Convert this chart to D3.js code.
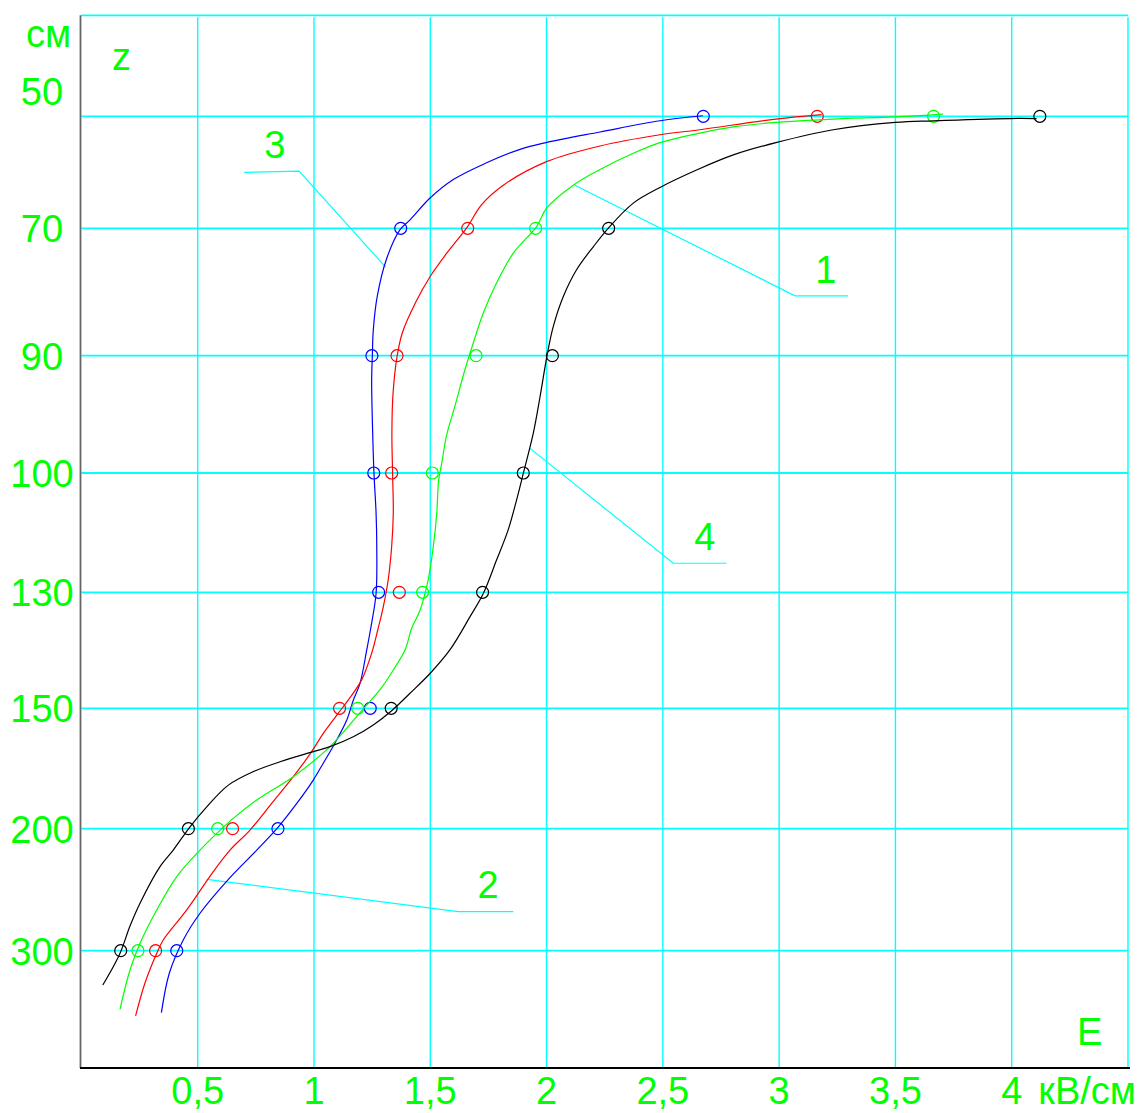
<!DOCTYPE html>
<html><head><meta charset="utf-8">
<script src="https://cdn.jsdelivr.net/npm/d3@7"></script>
<style>body{margin:0;background:#fff}text{font-family:"Liberation Sans",Arial,sans-serif}</style>
</head><body><svg id="c" width="1140" height="1113"></svg>
<script>
// ---------- data ----------
const depthTicks = [50, 70, 90, 100, 130, 150, 200, 300];          // z, cm
const eTicks = [0.5, 1, 1.5, 2, 2.5, 3, 3.5, 4];                     // E, kV/cm
const eTickLabels = ["0,5", "1", "1,5", "2", "2,5", "3", "3,5", "4"];
const depthLabels = ["50", "70", "90", "100", "130", "150", "200", "300"];

// measured points (E at each depth of depthTicks)
const markers1 = [3.664, 1.953, 1.697, 1.509, 1.467, 1.188, 0.586, 0.243]; // green
const markers2 = [3.164, 1.661, 1.357, 1.334, 1.367, 1.110, 0.650, 0.319]; // red
const markers3 = [2.674, 1.373, 1.249, 1.257, 1.278, 1.242, 0.845, 0.410]; // blue
const markers4 = [4.121, 2.267, 2.025, 1.900, 1.725, 1.332, 0.460, 0.169]; // black

// smoothed curves, [E, z]
const curve1 = [[3.704,49.6],[3.499,50.1],[3.233,50.5],[2.986,51.1],[2.803,51.9],[2.659,53.0],[2.488,54.7],[2.373,56.6],[2.230,59.5],[2.115,62.3],[2.000,66.4],[1.957,69.7],[1.857,73.9],[1.785,78.6],[1.728,83.3],[1.685,88.0],[1.649,91.2],[1.606,94.3],[1.570,96.8],[1.549,99.2],[1.536,101.8],[1.528,110.1],[1.513,118.5],[1.491,126.9],[1.456,133.1],[1.420,136.2],[1.392,139.9],[1.341,143.4],[1.284,146.8],[1.211,150.3],[1.069,165.9],[0.911,178.4],[0.754,188.1],[0.653,195.7],[0.582,203.8],[0.510,217.5],[0.410,239.3],[0.324,266.6],[0.252,293.9],[0.209,315.8],[0.166,348.0]];
const curve2 = [[3.183,49.7],[2.986,50.5],[2.659,52.4],[2.488,53.3],[2.230,55.3],[2.000,58.1],[1.814,62.3],[1.720,65.8],[1.659,69.8],[1.571,73.9],[1.499,77.6],[1.439,81.5],[1.380,86.4],[1.357,90.1],[1.340,93.2],[1.335,96.6],[1.338,100.1],[1.341,110.1],[1.334,118.5],[1.319,126.9],[1.298,132.5],[1.276,136.2],[1.248,140.5],[1.205,145.1],[1.147,148.6],[1.104,152.1],[1.040,160.4],[0.990,168.0],[0.911,178.4],[0.818,189.5],[0.725,201.1],[0.639,217.5],[0.567,235.2],[0.453,266.6],[0.352,291.2],[0.324,302.1],[0.273,326.7],[0.233,353.5]];
const curve3 = [[2.672,49.9],[2.488,50.8],[2.230,52.8],[1.997,54.7],[1.886,55.9],[1.742,58.3],[1.599,61.3],[1.499,64.6],[1.413,68.5],[1.370,70.2],[1.313,74.7],[1.272,80.7],[1.255,86.0],[1.251,90.0],[1.248,92.1],[1.252,96.3],[1.258,100.1],[1.267,110.1],[1.270,118.5],[1.267,130.2],[1.244,136.2],[1.227,139.9],[1.198,145.7],[1.169,148.6],[1.141,154.9],[1.090,164.5],[1.040,172.8],[0.997,179.8],[0.926,189.5],[0.847,199.2],[0.754,217.5],[0.632,241.5],[0.510,269.3],[0.438,291.2],[0.378,318.5],[0.344,350.8]];
const curve4 = [[4.107,50.4],[3.987,50.4],[3.663,50.8],[3.499,51.1],[3.233,52.4],[2.986,54.7],[2.803,56.9],[2.645,59.6],[2.488,62.7],[2.373,65.5],[2.265,70.0],[2.201,72.9],[2.129,76.5],[2.072,80.7],[2.029,85.4],[2.004,89.6],[1.972,93.5],[1.943,96.6],[1.900,100.1],[1.871,106.8],[1.835,114.3],[1.785,121.9],[1.728,130.2],[1.671,134.2],[1.585,139.9],[1.499,144.0],[1.413,147.4],[1.334,151.0],[1.255,156.9],[1.169,161.8],[1.069,165.9],[0.997,168.0],[0.854,172.2],[0.739,176.3],[0.632,181.9],[0.539,190.9],[0.467,199.2],[0.395,217.5],[0.338,231.1],[0.252,261.1],[0.209,279.8],[0.169,300.8],[0.137,313.1],[0.092,328.1]];

// curve number labels with leader lines, [E, z]
const leaderNames = ["1", "2", "3", "4"];
const leaderLabelPos = [[3.201,78.6],[1.748,256.8],[0.832,57.4],[2.681,119.4]];
const leaderPaths = [
  [[3.296,80.6],[3.068,80.6],[2.122,62.3]],
  [[1.857,268.0],[1.620,268.0],[0.539,241.5]],
  [[0.700,60.0],[0.936,59.8],[1.308,76.1]],
  [[2.774,122.7],[2.545,122.7],[1.929,97.9]]
];

// ---------- layout ----------
const depthPos = [116.3, 228.3, 355.7, 473, 592.3, 708.3, 828.7, 950.7];
const plotTop = 15.3, plotBottom = 1068;
const GRID = "#00ffff", LABEL = "#00ff00";

const svg = d3.select("#c");
const x = d3.scaleLinear().domain([0, 4.5]).range([81.4, 1128]);
const y = d3.scaleLinear().domain(depthTicks).range(depthPos);

const series = [
  {m: markers3, c: curve3, col: "#0000ff"},
  {m: markers2, c: curve2, col: "#ff0000"},
  {m: markers1, c: curve1, col: "#00ff00"},
  {m: markers4, c: curve4, col: "#000000"}
];

// grid
const g = svg.append("g");
g.selectAll("line.v").data(eTicks.concat([4.5])).join("line")
  .attr("x1", d => x(d)).attr("x2", d => x(d))
  .attr("y1", plotTop + 2).attr("y2", plotBottom)
  .attr("stroke", GRID).attr("stroke-width", 1.4);
g.selectAll("line.h").data(depthTicks).join("line")
  .attr("x1", x(0)).attr("x2", x(4.5))
  .attr("y1", d => y(d)).attr("y2", d => y(d))
  .attr("stroke", GRID).attr("stroke-width", 1.8);
g.append("line").attr("x1", x(0)).attr("x2", x(4.5)).attr("y1", plotTop).attr("y2", plotTop)
  .attr("stroke", GRID).attr("stroke-width", 1.8);

// axes lines
svg.append("line").attr("x1", 80.5).attr("x2", 80.5).attr("y1", plotTop).attr("y2", plotBottom)
  .attr("stroke", "#666").attr("stroke-width", 1.8);
svg.append("line").attr("x1", 80).attr("x2", 1130).attr("y1", plotBottom).attr("y2", plotBottom)
  .attr("stroke", "#000").attr("stroke-width", 2);

// leaders
const lineGen = d3.line().x(d => x(d[0])).y(d => y(d[1]));
svg.append("g").selectAll("path").data(leaderPaths).join("path")
  .attr("d", lineGen).attr("fill", "none").attr("stroke", GRID).attr("stroke-width", 1.2);
svg.append("g").selectAll("text").data(leaderNames).join("text")
  .attr("x", (d, i) => x(leaderLabelPos[i][0])).attr("y", (d, i) => y(leaderLabelPos[i][1]))
  .attr("text-anchor", "middle").attr("font-size", 38).attr("fill", LABEL).text(d => d);

// curves
const curveGen = d3.line().x(d => x(d[0])).y(d => y(d[1])).curve(d3.curveCatmullRom.alpha(0.5));
series.forEach(s => {
  svg.append("path").datum(s.c).attr("d", curveGen).attr("fill", "none")
    .attr("stroke", s.col).attr("stroke-width", 1.2);
  svg.append("g").selectAll("circle").data(s.m).join("circle")
    .attr("cx", d => x(d)).attr("cy", (d, i) => y(depthTicks[i])).attr("r", 6)
    .attr("fill", "none").attr("stroke", s.col).attr("stroke-width", 1.2);
});

// labels
const lab = svg.append("g").attr("fill", LABEL).attr("font-size", 38);
lab.selectAll("text.y").data(depthLabels).join("text")
  .attr("x", 42).attr("y", (d, i) => y(depthTicks[i]) + (i === 0 ? -11 : 14))
  .attr("text-anchor", "middle").text(d => d);
lab.selectAll("text.x").data(eTickLabels).join("text")
  .attr("x", (d, i) => x(eTicks[i])).attr("y", 1104)
  .attr("text-anchor", "middle").text(d => d);
lab.append("text").attr("x", 1136).attr("y", 1104).attr("text-anchor", "end").text("кВ/см");
lab.append("text").attr("x", 1077).attr("y", 1045).text("E");
lab.append("text").attr("x", 26).attr("y", 47).text("см");
lab.append("text").attr("x", 112).attr("y", 70).text("z");
</script></body></html>
